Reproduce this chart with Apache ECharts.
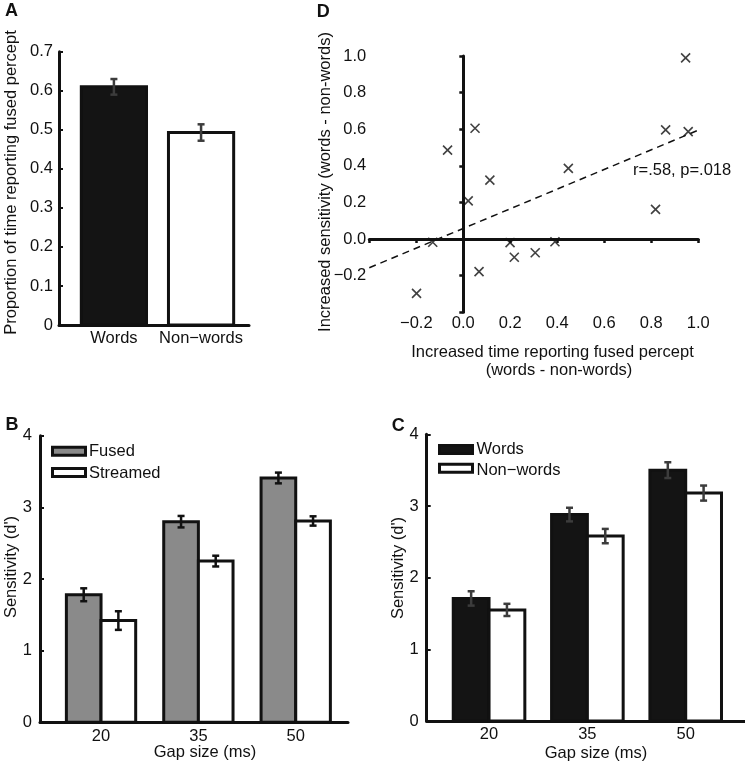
<!DOCTYPE html>
<html><head><meta charset="utf-8">
<script src="https://cdn.jsdelivr.net/npm/echarts@6/dist/echarts.min.js"></script>
<style>html,body{margin:0;padding:0;background:#fff}#c{width:745px;height:763px}</style>
</head><body><div id="c"></div>
<script>
const FONT = '"Liberation Sans", Arial, Helvetica, sans-serif';
const FS = 16.5;
const INK = '#111';
const ERRGRAY = '#3c3c3c';

// ---- Panel A ----
const catsA = ['Words', 'Non\u2212words'];
const propA = [0.610, 0.493];
const propErrA = [0.020, 0.021];

// ---- Panel B ----
const gapLabels = ['20', '35', '50'];
const namesB = ['Fused', 'Streamed'];
const fusedB = [1.78, 2.80, 3.41];
const fusedErrB = [0.09, 0.08, 0.075];
const streamedB = [1.42, 2.25, 2.81];
const streamedErrB = [0.13, 0.075, 0.065];

// ---- Panel C ----
const namesC = ['Words', 'Non\u2212words'];
const wordsC = [1.71, 2.88, 3.50];
const wordsErrC = [0.10, 0.095, 0.11];
const nonwordsC = [1.55, 2.58, 3.18];
const nonwordsErrC = [0.085, 0.10, 0.105];

// ---- Panel D ----
const diffFused = [0.946, 0.861, 0.957, 0.447, 0.818, 0.050, -0.067, 0.113, 0.021, -0.130, 0.199, 0.217, 0.306, 0.390, 0.067, -0.199];
const diffSens  = [0.990, 0.596, 0.587, 0.386, 0.162, 0.605, 0.486, 0.322, 0.208, -0.018, -0.020, -0.100, -0.075, -0.015, -0.178, -0.297];
const fitX = [-0.4, 1.0];
const fitY = [-0.157, 0.595];
const statText = 'r=.58, p=.018';

const fmtD = v => { const r = Math.round(v * 10) / 10; if (Math.abs(r) < 1e-9) return '0.0'; return (r < 0 ? '\u2212' : '') + Math.abs(r).toFixed(1); };

function barItem(half, fill, errColor, capHalf) {
  return function (params, api) {
    const x = api.value(0), v = api.value(1), e = api.value(2);
    const tl = api.coord([x - half, v]);
    const br = api.coord([x + half, 0]);
    const eTop = api.coord([x, v + e]);
    const eBot = api.coord([x, v - e]);
    const es = { stroke: errColor, lineWidth: 2.5 };
    return {
      type: 'group', children: [
        { type: 'rect', shape: { x: tl[0], y: tl[1], width: br[0] - tl[0], height: br[1] - tl[1] }, style: { fill: fill, stroke: INK, lineWidth: 3 } },
        { type: 'line', shape: { x1: eTop[0], y1: eTop[1], x2: eBot[0], y2: eBot[1] }, style: es },
        { type: 'line', shape: { x1: eTop[0] - capHalf, y1: eTop[1], x2: eTop[0] + capHalf, y2: eTop[1] }, style: es },
        { type: 'line', shape: { x1: eBot[0] - capHalf, y1: eBot[1], x2: eBot[0] + capHalf, y2: eBot[1] }, style: es }
      ]
    };
  };
}

const lbl = (extra) => Object.assign({ fontSize: FS, color: INK, fontFamily: FONT }, extra);
const line3 = { color: INK, width: 3 };

const hA = 0.374, hB = 0.178, hC = 0.182;
const LETTER = 'bold 18px ' + FONT;

const option = {
  animation: false,
  backgroundColor: '#fff',
  textStyle: { fontFamily: FONT },
  grid: [
    { left: 59, top: 51.7, width: 190, height: 273.3, containLabel: false, outerBoundsMode: 'none' },
    { left: 40, top: 435.7, width: 308, height: 286.6, containLabel: false, outerBoundsMode: 'none' },
    { left: 426.7, top: 434.3, width: 318.3, height: 286.7, containLabel: false, outerBoundsMode: 'none' },
    { left: 369.3, top: 56, width: 329, height: 256.2, containLabel: false, outerBoundsMode: 'none' }
  ],
  xAxis: [
    { type: 'value', gridIndex: 0, min: 0.37, max: 2.55, position: 'bottom',
      axisLine: { onZero: false, lineStyle: line3 }, axisTick: { show: false }, splitLine: { show: false },
      axisLabel: lbl({ customValues: [1, 2], formatter: v => catsA[Math.round(v) - 1], margin: 5 }) },
    { type: 'value', gridIndex: 1, min: 0.373, max: 3.537, position: 'bottom',
      axisLine: { onZero: false, lineStyle: line3 }, axisTick: { show: false }, splitLine: { show: false },
      axisLabel: lbl({ customValues: [1, 2, 3], formatter: v => gapLabels[Math.round(v) - 1], margin: 6 }) },
    { type: 'value', gridIndex: 2, min: 0.366, max: 3.603, position: 'bottom',
      axisLine: { onZero: false, lineStyle: line3 }, axisTick: { show: false }, splitLine: { show: false },
      axisLabel: lbl({ customValues: [1, 2, 3], formatter: v => gapLabels[Math.round(v) - 1], margin: 5 }) },
    { type: 'value', gridIndex: 3, min: -0.4, max: 1.0, interval: 0.2, position: 'bottom',
      axisLine: { show: false, onZero: false }, axisTick: { show: false }, splitLine: { show: false },
      axisLabel: lbl({ showMinLabel: false, showMaxLabel: true, formatter: fmtD, margin: 3 }) },
    { type: 'value', gridIndex: 3, min: -0.4, max: 1.0, interval: 0.2, position: 'bottom',
      axisLine: { show: true, onZero: true, lineStyle: line3 },
      axisTick: { show: true, length: 4, lineStyle: { color: INK, width: 2.5 } },
      splitLine: { show: false }, axisLabel: { show: false } }
  ],
  yAxis: [
    { type: 'value', gridIndex: 0, min: 0, max: 0.7, interval: 0.1, position: 'left',
      axisLine: { show: true, onZero: false, lineStyle: line3 },
      axisTick: { show: true, inside: true, length: 4, lineStyle: { color: INK, width: 2 } }, splitLine: { show: false },
      axisLabel: lbl({ margin: 6, formatter: v => (Math.abs(v) < 1e-9 ? '0' : v.toFixed(1)) }) },
    { type: 'value', gridIndex: 1, min: 0, max: 4, interval: 1, position: 'left',
      axisLine: { show: true, onZero: false, lineStyle: line3 },
      axisTick: { show: true, inside: true, length: 4, lineStyle: { color: INK, width: 2 } }, splitLine: { show: false },
      axisLabel: lbl({ margin: 8 }) },
    { type: 'value', gridIndex: 2, min: 0, max: 4, interval: 1, position: 'left',
      axisLine: { show: true, onZero: false, lineStyle: line3 },
      axisTick: { show: true, inside: true, length: 4, lineStyle: { color: INK, width: 2 } }, splitLine: { show: false },
      axisLabel: lbl({ margin: 8 }) },
    { type: 'value', gridIndex: 3, min: -0.4, max: 1.0, interval: 0.2, position: 'left',
      axisLine: { show: false, onZero: false }, axisTick: { show: false }, splitLine: { show: false },
      axisLabel: lbl({ showMinLabel: false, formatter: fmtD, margin: 3 }) },
    { type: 'value', gridIndex: 3, min: -0.4, max: 1.0, interval: 0.2, position: 'left',
      axisLine: { show: true, onZero: true, lineStyle: line3 },
      axisTick: { show: true, length: 4, lineStyle: { color: INK, width: 2.5 } },
      splitLine: { show: false }, axisLabel: { show: false } }
  ],
  series: [
    { type: 'custom', name: catsA[0], xAxisIndex: 0, yAxisIndex: 0, clip: false,
      renderItem: barItem(hA, '#141414', ERRGRAY, 3.5), data: [[1, propA[0], propErrA[0]]] },
    { type: 'custom', name: catsA[1], xAxisIndex: 0, yAxisIndex: 0, clip: false,
      renderItem: barItem(hA, '#fff', ERRGRAY, 3.5), data: [[2, propA[1], propErrA[1]]] },
    { type: 'custom', name: namesB[0], xAxisIndex: 1, yAxisIndex: 1, clip: false,
      renderItem: barItem(hB, '#8a8a8a', INK, 3.5), data: fusedB.map((v, i) => [i + 1 - hB, v, fusedErrB[i]]) },
    { type: 'custom', name: namesB[1], xAxisIndex: 1, yAxisIndex: 1, clip: false,
      renderItem: barItem(hB, '#fff', INK, 3.5), data: streamedB.map((v, i) => [i + 1 + hB, v, streamedErrB[i]]) },
    { type: 'custom', name: namesC[0], xAxisIndex: 2, yAxisIndex: 2, clip: false,
      renderItem: barItem(hC, '#141414', ERRGRAY, 3.5), data: wordsC.map((v, i) => [i + 1 - hC, v, wordsErrC[i]]) },
    { type: 'custom', name: namesC[1], xAxisIndex: 2, yAxisIndex: 2, clip: false,
      renderItem: barItem(hC, '#fff', ERRGRAY, 3.5), data: nonwordsC.map((v, i) => [i + 1 + hC, v, nonwordsErrC[i]]) },
    { type: 'line', xAxisIndex: 3, yAxisIndex: 3, symbol: 'none', silent: true,
      lineStyle: { color: INK, width: 1.5, type: [7, 5] }, data: fitX.map((x, i) => [x, fitY[i]]) },
    { type: 'scatter', xAxisIndex: 3, yAxisIndex: 3, symbol: 'path://M0,0L10,10M10,0L0,10', symbolSize: 9,
      itemStyle: { color: 'transparent', borderColor: INK, borderWidth: 1.6 },
      data: diffFused.map((x, i) => [x, diffSens[i]]) }
  ],
  graphic: [
    // panel letters
    { type: 'text', x: 11.5, y: 11, style: { text: 'A', font: LETTER, fill: INK, align: 'center', verticalAlign: 'middle' } },
    { type: 'text', x: 323.3, y: 12.3, style: { text: 'D', font: LETTER, fill: INK, align: 'center', verticalAlign: 'middle' } },
    { type: 'text', x: 12, y: 425, style: { text: 'B', font: LETTER, fill: INK, align: 'center', verticalAlign: 'middle' } },
    { type: 'text', x: 398.3, y: 425.6, style: { text: 'C', font: LETTER, fill: INK, align: 'center', verticalAlign: 'middle' } },
    // axis titles
    { type: 'text', x: 11, y: 182.5, rotation: Math.PI / 2, style: { text: 'Proportion of time reporting fused percept', font: FS + 'px ' + FONT, fill: INK, align: 'center', verticalAlign: 'middle' } },
    { type: 'text', x: 11, y: 567, rotation: Math.PI / 2, style: { text: "Sensitivity (d')", font: FS + 'px ' + FONT, fill: INK, align: 'center', verticalAlign: 'middle' } },
    { type: 'text', x: 398, y: 568, rotation: Math.PI / 2, style: { text: "Sensitivity (d')", font: FS + 'px ' + FONT, fill: INK, align: 'center', verticalAlign: 'middle' } },
    { type: 'text', x: 205, y: 752, style: { text: 'Gap size (ms)', font: FS + 'px ' + FONT, fill: INK, align: 'center', verticalAlign: 'middle' } },
    { type: 'text', x: 596, y: 753, style: { text: 'Gap size (ms)', font: FS + 'px ' + FONT, fill: INK, align: 'center', verticalAlign: 'middle' } },
    { type: 'text', x: 325, y: 182, rotation: Math.PI / 2, style: { text: 'Increased sensitivity (words - non-words)', font: FS + 'px ' + FONT, fill: INK, align: 'center', verticalAlign: 'middle' } },
    { type: 'text', x: 552.5, y: 352, style: { text: 'Increased time reporting fused percept', font: FS + 'px ' + FONT, fill: INK, align: 'center', verticalAlign: 'middle' } },
    { type: 'text', x: 559, y: 370.5, style: { text: '(words - non-words)', font: FS + 'px ' + FONT, fill: INK, align: 'center', verticalAlign: 'middle' } },
    { type: 'text', x: 633, y: 170.5, style: { text: statText, font: FS + 'px ' + FONT, fill: INK, align: 'left', verticalAlign: 'middle' } },
    // legend B
    { type: 'rect', shape: { x: 52.5, y: 447.2, width: 33, height: 8 }, style: { fill: '#8a8a8a', stroke: INK, lineWidth: 3 } },
    { type: 'rect', shape: { x: 52.5, y: 468.5, width: 33, height: 8 }, style: { fill: '#fff', stroke: INK, lineWidth: 3 } },
    { type: 'text', x: 89, y: 451.5, style: { text: namesB[0], font: FS + 'px ' + FONT, fill: INK, align: 'left', verticalAlign: 'middle' } },
    { type: 'text', x: 89, y: 473, style: { text: namesB[1], font: FS + 'px ' + FONT, fill: INK, align: 'left', verticalAlign: 'middle' } },
    // legend C
    { type: 'rect', shape: { x: 439.5, y: 445.5, width: 33, height: 8 }, style: { fill: '#141414', stroke: INK, lineWidth: 3 } },
    { type: 'rect', shape: { x: 439.5, y: 464.2, width: 33, height: 8 }, style: { fill: '#fff', stroke: INK, lineWidth: 3 } },
    { type: 'text', x: 476.5, y: 449.5, style: { text: namesC[0], font: FS + 'px ' + FONT, fill: INK, align: 'left', verticalAlign: 'middle' } },
    { type: 'text', x: 476.5, y: 470.5, style: { text: namesC[1], font: FS + 'px ' + FONT, fill: INK, align: 'left', verticalAlign: 'middle' } }
  ]
};

const chart = echarts.init(document.getElementById('c'), null, { renderer: 'canvas' });
chart.setOption(option);
</script>
</body></html>
